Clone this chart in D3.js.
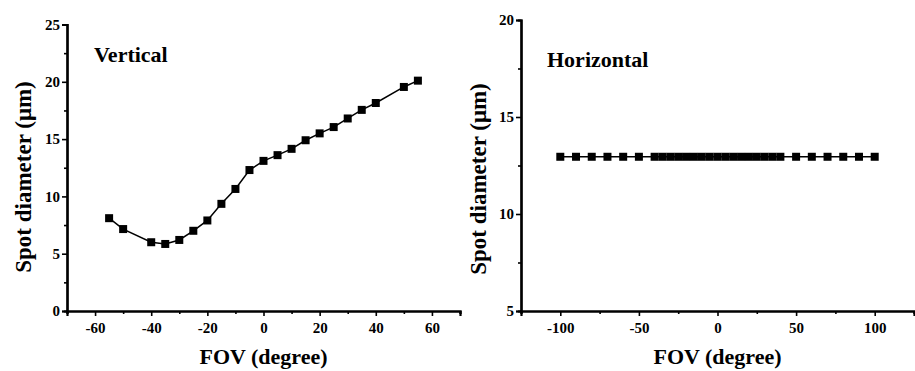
<!DOCTYPE html>
<html><head>
<meta charset="utf-8">
<script src="https://d3js.org/d3.v7.min.js"></script>
</head>
<body style="margin:0">
<script>
// vertical FOV scan
const vFov  = [-55, -50, -40, -35, -30, -25, -20, -15, -10, -5, 0, 5, 10, 15, 20, 25, 30, 35, 40, 50, 55];
const vSpot = [8.1, 7.15, 6.0, 5.85, 6.2, 7.0, 7.9, 9.35, 10.65, 12.3, 13.1, 13.6, 14.15, 14.9, 15.5, 16.05, 16.8, 17.55, 18.15, 19.55, 20.1];

// horizontal FOV scan
const hFov  = [-100, -90, -80, -70, -60, -50, -40, -35, -30, -25, -20, -15, -10, -5, 0, 5, 10, 15, 20, 25, 30, 35, 40, 50, 60, 70, 80, 90, 100];
const hSpot = [12.95, 12.95, 12.95, 12.95, 12.95, 12.95, 12.95, 12.95, 12.95, 12.95, 12.95, 12.95, 12.95, 12.95, 12.95, 12.95, 12.95, 12.95, 12.95, 12.95, 12.95, 12.95, 12.95, 12.95, 12.95, 12.95, 12.95, 12.95, 12.95];

const vXTicks = [-60, -40, -20, 0, 20, 40, 60];
const vYTicks = [0, 5, 10, 15, 20, 25];
const hXTicks = [-100, -50, 0, 50, 100];
const hYTicks = [5, 10, 15, 20];

const FONT = '"Times New Roman", "Liberation Serif", Tinos, FreeSerif, serif';
const svg = d3.select("body").append("svg")
  .attr("width", 915).attr("height", 371);

function txt(sel, size) {
  return sel.attr("font-family", FONT).attr("font-weight", "bold")
    .attr("font-size", size).attr("fill", "#000")
    .style("font-family", FONT, "important")
    .style("font-weight", "bold", "important");
}

function panel(opt) {
  const x = d3.scaleLinear().domain(opt.xDomain).range([opt.x0, opt.x1]);
  const y = d3.scaleLinear().domain(opt.yDomain).range([opt.y1, opt.y0]);
  const g = svg.append("g");
  const fmt = d => String(d);  // plain hyphen like the original

  // minor ticks
  const xa = g.append("g").attr("transform", `translate(0,${opt.y1})`)
    .call(d3.axisBottom(x).tickValues(opt.xMinor).tickSize(3).tickFormat(""));
  const ya = g.append("g").attr("transform", `translate(${opt.x0},0)`)
    .call(d3.axisLeft(y).tickValues(opt.yMinor).tickSize(3).tickFormat(""));
  // major ticks
  const xb = g.append("g").attr("transform", `translate(0,${opt.y1})`)
    .call(d3.axisBottom(x).tickValues(opt.xTicks).tickSize(5).tickPadding(6).tickFormat(fmt));
  const yb = g.append("g").attr("transform", `translate(${opt.x0},0)`)
    .call(d3.axisLeft(y).tickValues(opt.yTicks).tickSize(5).tickPadding(2).tickFormat(fmt));

  [xa, ya, xb, yb].forEach(a => {
    a.attr("font-family", FONT).attr("font-size", null);
    a.selectAll(".domain").attr("stroke", "#000").attr("stroke-width", 2.2);
    a.selectAll(".tick line").attr("stroke", "#000").attr("stroke-width", 1.6);
    txt(a.selectAll("text"), 15);
  });

  const line = d3.line().x(d => x(d[0])).y(d => y(d[1]));
  const pts = opt.xs.map((v, i) => [v, opt.ys[i]]);
  g.append("path").datum(pts).attr("d", line)
    .attr("fill", "none").attr("stroke", "#000").attr("stroke-width", 1.5);
  g.selectAll("rect.pt").data(pts).join("rect").attr("class", "pt")
    .attr("x", d => x(d[0]) - 4).attr("y", d => y(d[1]) - 4)
    .attr("width", 8).attr("height", 8).attr("fill", "#000");

  txt(g.append("text"), 22).attr("x", opt.titleX).attr("y", opt.titleY).text(opt.title);
  txt(g.append("text"), 22).attr("x", (opt.x0 + opt.x1) / 2).attr("y", 364)
    .attr("text-anchor", "middle").text("FOV (degree)");
  txt(g.append("text"), 23)
    .attr("transform", `translate(${opt.yLabelX},${opt.yLabelY}) rotate(-90)`)
    .attr("text-anchor", "middle").text("Spot diameter (\u03bcm)");
}

panel({
  xDomain: [-70, 70], yDomain: [0, 25],
  x0: 67, x1: 460, y0: 24.5, y1: 311,
  xTicks: vXTicks, yTicks: vYTicks,
  xMinor: [-70, -50, -30, -10, 10, 30, 50, 70], yMinor: [2.5, 7.5, 12.5, 17.5, 22.5],
  xs: vFov, ys: vSpot,
  title: "Vertical", titleX: 94, titleY: 62,
  yLabelX: 31, yLabelY: 177
});

panel({
  xDomain: [-125, 125], yDomain: [5, 20],
  x0: 521, x1: 914, y0: 20, y1: 311,
  xTicks: hXTicks, yTicks: hYTicks,
  xMinor: [-125, -75, -25, 25, 75, 125], yMinor: [7.5, 12.5, 17.5],
  xs: hFov, ys: hSpot,
  title: "Horizontal", titleX: 547, titleY: 67,
  yLabelX: 486, yLabelY: 179
});
</script>
</body>
</html>
